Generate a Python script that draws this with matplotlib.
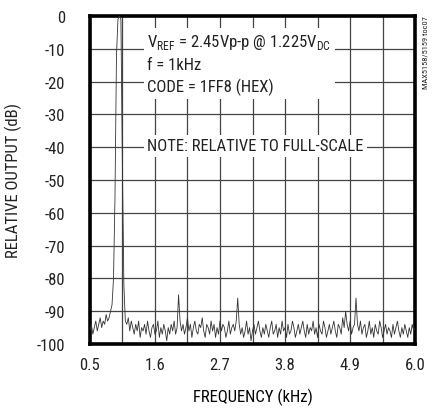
import matplotlib
matplotlib.use('Agg')
import numpy as np
import matplotlib.pyplot as plt

# FFT bins: start 0.5 kHz, 0.025 kHz apart
freq_start = 0.5
freq_step = 0.025
level_db = [
    -96, -94, -97, -95, -93, -96, -94, -92, -95, -93, -94, -91, -93, -92, -90,
    -88, -80, -55, -12, -1, 0, -1, -45, -82, -93,
    -94, -92, -96, -93, -95, -97, -94, -96, -93, -98, -95, -96, -94, -97, -93,
    -96, -98, -95, -94, -97, -96, -93, -98, -95, -97, -94, -96, -99, -95, -97,
    -94, -96, -93, -97, -95,
    -85,
    -93, -96, -94, -97, -95, -92, -96, -94, -98, -95, -93, -96, -97, -94, -95,
    -92, -96, -98, -94, -95, -97, -93, -96, -94, -98, -95, -97, -93, -96, -94,
    -95, -98, -96, -93, -97, -95, -94, -96, -93,
    -86,
    -94, -97, -95, -98, -96, -93, -97, -95, -99, -96, -94, -97, -95, -93, -96,
    -98, -95, -97, -94, -96, -98, -95, -93, -97, -96, -94, -98, -95, -97, -93,
    -96, -95, -98, -94, -97, -96, -93, -95, -98, -96, -94, -97, -95, -93, -96,
    -98, -94, -97, -95, -96, -93, -97, -95, -98, -94, -96, -97, -93, -95, -98,
    -96, -94, -97, -95, -93, -96, -98, -94, -95, -97, -92, -95, -90, -94, -96,
    -93, -97, -95, -94,
    -86,
    -94, -96, -93, -97, -95, -94, -98, -96, -93, -97, -95, -98, -94, -96, -97,
    -93, -95, -98, -96, -94, -97, -95, -96, -98, -94, -97, -95, -93, -96, -98,
    -95, -97, -94, -96, -98, -95, -97, -94, -96, -95,
]
freq_khz = freq_start + freq_step * np.arange(len(level_db))

x_ticks = [0.5, 1.6, 2.7, 3.8, 4.9, 6.0]
y_ticks = [0, -10, -20, -30, -40, -50, -60, -70, -80, -90, -100]

plt.rcParams['font.family'] = ['Roboto Condensed', 'Liberation Sans', 'DejaVu Sans']
plt.rcParams['axes.unicode_minus'] = False
plt.rcParams['text.color'] = '#222222'
plt.rcParams['xtick.color'] = '#222222'
plt.rcParams['ytick.color'] = '#222222'

fig = plt.figure(figsize=(4.32, 4.10), dpi=100)
ax = fig.add_axes([0.208, 0.1585, 0.753, 0.8])

ax.plot(freq_khz, level_db, color='#333333', lw=0.6, zorder=3)

ax.set_xlim(0.5, 6.0)
ax.set_ylim(-100, 0)
ax.set_xticks(x_ticks)
ax.set_xticklabels([f'{t:.1f}' for t in x_ticks], fontsize=12)
ax.set_xticks(np.arange(11) * 0.55 + 0.5, minor=True)
ax.set_yticks(y_ticks)
ax.set_yticklabels([str(t) for t in y_ticks], fontsize=12)
ax.tick_params(which='both', length=0)
ax.tick_params(axis='y', pad=18)
ax.tick_params(axis='x', pad=9)
ax.grid(True, which='both', color='#444444', lw=0.9, zorder=1)
for s in ax.spines.values():
    s.set_linewidth(2.6)

ax.set_xlabel('FREQUENCY (kHz)', fontsize=12, labelpad=12)
fig.text(0.03, 0.56, 'RELATIVE OUTPUT (dB)', fontsize=12, rotation=90,
         ha='center', va='center')

box = dict(facecolor='white', edgecolor='none', pad=2.5)
ax.text(1.47, -5.0,
        'V$_{\\mathregular{REF}}$ = 2.45Vp-p @ 1.225V$_{\\mathregular{DC}}$\n'
        'f = 1kHz\nCODE = 1FF8 (HEX)',
        fontsize=12, va='top', ha='left', linespacing=1.45, bbox=box, zorder=4)
ax.text(1.47, -39.5, 'NOTE: RELATIVE TO FULL-SCALE', fontsize=12,
        va='center', ha='left', bbox=box, zorder=4)

fig.text(0.985, 0.96, 'MAX5158/5159 toc07', fontsize=6, rotation=90,
         ha='center', va='top')

fig.savefig('out.png', dpi=100)
